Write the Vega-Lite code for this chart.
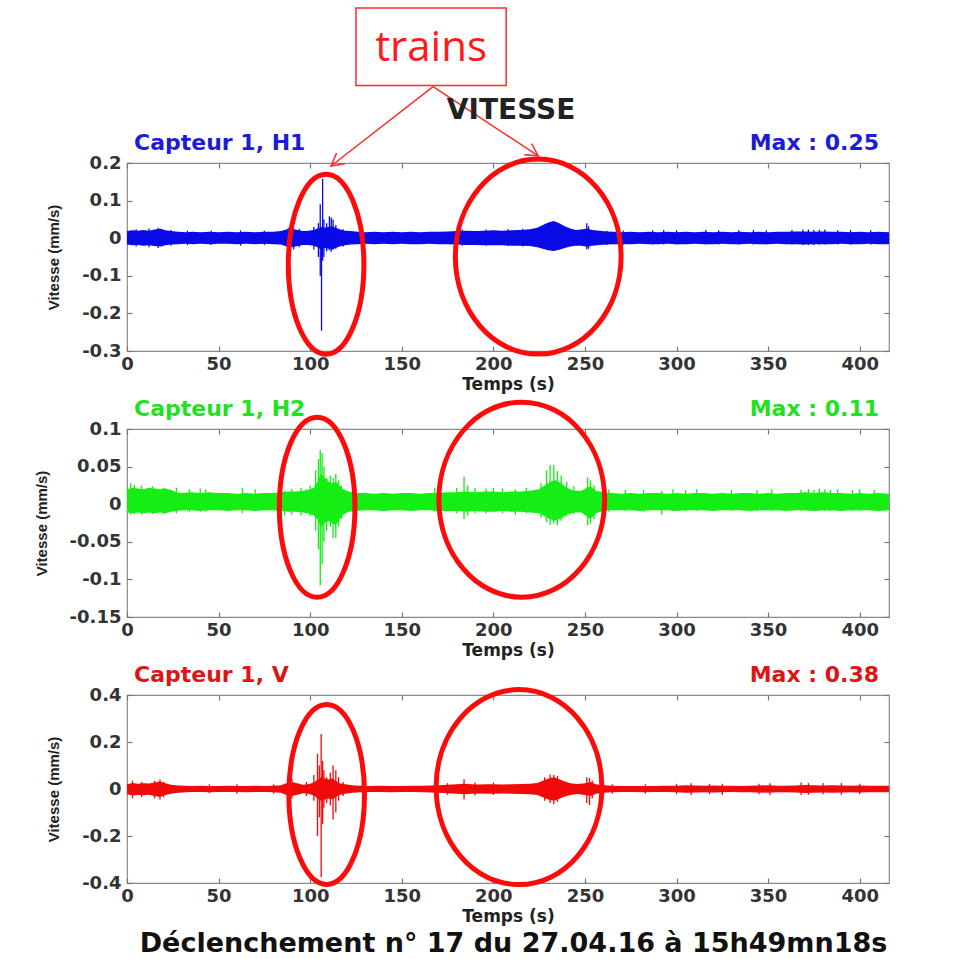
{
  "$schema": "https://vega.github.io/schema/vega-lite/v6.json",
  "autosize": {"type": "pad"},
  "padding": {"left": 33, "top": 6, "right": 5, "bottom": 5},
  "background": "white",
  "bounds": "flush",
  "spacing": 78,
  "config": {
    "view": {"stroke": "#8a8a8a", "strokeWidth": 1.2},
    "axis": {
      "domain": false, "grid": false, "tickColor": "#777", "tickSize": -5, "tickWidth": 1.2,
      "labelFont": "DejaVu Sans", "labelFontSize": 18, "labelFontWeight": "bold", "labelColor": "#333",
      "labelFlush": false, "labelOverlap": false, "labelExpr": "toString(datum.value)",
      "titleFont": "DejaVu Sans", "titleFontSize": 17, "titleFontWeight": "bold", "titleColor": "#222"
    },
    "axisY": {"titleFont": "Liberation Sans", "titleFontSize": 15, "titlePadding": 20, "labelPadding": 11},
    "axisX": {"titlePadding": 3, "labelPadding": 9}
  },
  "datasets": {
    "h1band": [
      {"t":0,"hi":0.019,"lo":-0.017},{"t":3,"hi":0.021,"lo":-0.019},{"t":6,"hi":0.02,"lo":-0.018},{"t":9,"hi":0.022,"lo":-0.02},{"t":12,"hi":0.02,"lo":-0.019},{"t":15,"hi":0.023,"lo":-0.021},{"t":18,"hi":0.025,"lo":-0.022},{"t":21,"hi":0.021,"lo":-0.019},{"t":24,"hi":0.019,"lo":-0.017},{"t":28,"hi":0.017,"lo":-0.016},{"t":32,"hi":0.016,"lo":-0.015},{"t":36,"hi":0.017,"lo":-0.016},{"t":40,"hi":0.016,"lo":-0.015},{"t":45,"hi":0.017,"lo":-0.016},{"t":50,"hi":0.016,"lo":-0.015},{"t":55,"hi":0.017,"lo":-0.015},{"t":60,"hi":0.016,"lo":-0.016},{"t":65,"hi":0.017,"lo":-0.015},{"t":70,"hi":0.016,"lo":-0.016},{"t":75,"hi":0.017,"lo":-0.015},{"t":80,"hi":0.017,"lo":-0.016},{"t":84,"hi":0.019,"lo":-0.017},{"t":87,"hi":0.023,"lo":-0.022},{"t":90,"hi":0.025,"lo":-0.024},{"t":93,"hi":0.022,"lo":-0.021},{"t":96,"hi":0.019,"lo":-0.018},{"t":99,"hi":0.02,"lo":-0.018},{"t":102,"hi":0.022,"lo":-0.02},{"t":104,"hi":0.026,"lo":-0.024},{"t":106,"hi":0.03,"lo":-0.03},{"t":108,"hi":0.028,"lo":-0.026},{"t":110,"hi":0.03,"lo":-0.028},{"t":112,"hi":0.032,"lo":-0.03},{"t":114,"hi":0.028,"lo":-0.026},{"t":116,"hi":0.024,"lo":-0.022},{"t":119,"hi":0.02,"lo":-0.019},{"t":122,"hi":0.019,"lo":-0.017},{"t":126,"hi":0.017,"lo":-0.016},{"t":130,"hi":0.016,"lo":-0.015},{"t":135,"hi":0.017,"lo":-0.016},{"t":140,"hi":0.016,"lo":-0.015},{"t":145,"hi":0.017,"lo":-0.016},{"t":150,"hi":0.016,"lo":-0.015},{"t":155,"hi":0.017,"lo":-0.016},{"t":160,"hi":0.016,"lo":-0.016},{"t":165,"hi":0.017,"lo":-0.015},{"t":170,"hi":0.017,"lo":-0.016},{"t":175,"hi":0.018,"lo":-0.016},{"t":180,"hi":0.019,"lo":-0.017},{"t":185,"hi":0.02,"lo":-0.018},{"t":190,"hi":0.019,"lo":-0.018},{"t":195,"hi":0.02,"lo":-0.019},{"t":200,"hi":0.021,"lo":-0.019},{"t":205,"hi":0.02,"lo":-0.019},{"t":210,"hi":0.021,"lo":-0.02},{"t":215,"hi":0.022,"lo":-0.02},{"t":220,"hi":0.024,"lo":-0.021},{"t":224,"hi":0.028,"lo":-0.024},{"t":227,"hi":0.035,"lo":-0.028},{"t":230,"hi":0.042,"lo":-0.032},{"t":233,"hi":0.046,"lo":-0.034},{"t":236,"hi":0.04,"lo":-0.031},{"t":239,"hi":0.032,"lo":-0.026},{"t":242,"hi":0.026,"lo":-0.022},{"t":245,"hi":0.022,"lo":-0.02},{"t":248,"hi":0.023,"lo":-0.02},{"t":251,"hi":0.026,"lo":-0.023},{"t":254,"hi":0.022,"lo":-0.02},{"t":258,"hi":0.02,"lo":-0.018},{"t":262,"hi":0.018,"lo":-0.017},{"t":266,"hi":0.017,"lo":-0.016},{"t":270,"hi":0.016,"lo":-0.016},{"t":275,"hi":0.017,"lo":-0.016},{"t":280,"hi":0.016,"lo":-0.015},{"t":285,"hi":0.017,"lo":-0.016},{"t":290,"hi":0.016,"lo":-0.016},{"t":295,"hi":0.017,"lo":-0.015},{"t":300,"hi":0.016,"lo":-0.016},{"t":305,"hi":0.017,"lo":-0.016},{"t":310,"hi":0.016,"lo":-0.015},{"t":315,"hi":0.017,"lo":-0.016},{"t":320,"hi":0.016,"lo":-0.016},{"t":325,"hi":0.017,"lo":-0.015},{"t":330,"hi":0.016,"lo":-0.016},{"t":335,"hi":0.017,"lo":-0.016},{"t":340,"hi":0.016,"lo":-0.015},{"t":345,"hi":0.017,"lo":-0.016},{"t":350,"hi":0.016,"lo":-0.016},{"t":355,"hi":0.017,"lo":-0.015},{"t":360,"hi":0.017,"lo":-0.016},{"t":365,"hi":0.018,"lo":-0.016},{"t":370,"hi":0.018,"lo":-0.017},{"t":375,"hi":0.017,"lo":-0.016},{"t":380,"hi":0.018,"lo":-0.016},{"t":385,"hi":0.017,"lo":-0.016},{"t":390,"hi":0.017,"lo":-0.015},{"t":395,"hi":0.016,"lo":-0.016},{"t":400,"hi":0.017,"lo":-0.016},{"t":405,"hi":0.016,"lo":-0.015},{"t":410,"hi":0.017,"lo":-0.016},{"t":416,"hi":0.016,"lo":-0.016}
    ],
    "h1spk": [
      {"t":5,"lo":-0.022,"hi":0.024},{"t":12,"lo":-0.024,"hi":0.026},{"t":17,"lo":-0.026,"hi":0.028},{"t":19,"lo":-0.022,"hi":0.025},{"t":24,"lo":-0.02,"hi":0.022},{"t":33,"lo":-0.018,"hi":0.02},{"t":46,"lo":-0.018,"hi":0.02},{"t":62,"lo":-0.02,"hi":0.021},{"t":75,"lo":-0.018,"hi":0.02},{"t":88,"lo":-0.028,"hi":0.028},{"t":91,"lo":-0.03,"hi":0.026},{"t":94,"lo":-0.024,"hi":0.025},{"t":102,"lo":-0.03,"hi":0.03},{"t":104.5,"lo":-0.05,"hi":0.04},{"t":105.5,"lo":-0.1,"hi":0.09},{"t":106.2,"lo":-0.246,"hi":0.03},{"t":106.8,"lo":-0.06,"hi":0.158},{"t":107.5,"lo":-0.05,"hi":0.05},{"t":109,"lo":-0.035,"hi":0.04},{"t":110.5,"lo":-0.032,"hi":0.058},{"t":111.5,"lo":-0.036,"hi":0.055},{"t":112.5,"lo":-0.03,"hi":0.05},{"t":114,"lo":-0.028,"hi":0.035},{"t":118,"lo":-0.022,"hi":0.024},{"t":183,"lo":-0.02,"hi":0.024},{"t":196,"lo":-0.02,"hi":0.023},{"t":208,"lo":-0.021,"hi":0.024},{"t":216,"lo":-0.022,"hi":0.025},{"t":251,"lo":-0.03,"hi":0.04},{"t":252,"lo":-0.028,"hi":0.032},{"t":262,"lo":-0.018,"hi":0.02},{"t":271,"lo":-0.017,"hi":0.02},{"t":287,"lo":-0.017,"hi":0.021},{"t":293,"lo":-0.017,"hi":0.022},{"t":300,"lo":-0.017,"hi":0.021},{"t":316,"lo":-0.017,"hi":0.022},{"t":323,"lo":-0.017,"hi":0.021},{"t":334,"lo":-0.017,"hi":0.021},{"t":342,"lo":-0.017,"hi":0.022},{"t":349,"lo":-0.017,"hi":0.021},{"t":363,"lo":-0.017,"hi":0.022},{"t":369,"lo":-0.018,"hi":0.023},{"t":372,"lo":-0.018,"hi":0.023},{"t":375,"lo":-0.018,"hi":0.022},{"t":378,"lo":-0.017,"hi":0.022},{"t":381,"lo":-0.017,"hi":0.023},{"t":388,"lo":-0.017,"hi":0.021},{"t":395,"lo":-0.017,"hi":0.022},{"t":406,"lo":-0.017,"hi":0.021}
    ],
    "h2band": [
      {"t":0,"hi":0.02,"lo":-0.011},{"t":3,"hi":0.022,"lo":-0.012},{"t":6,"hi":0.021,"lo":-0.011},{"t":9,"hi":0.02,"lo":-0.012},{"t":12,"hi":0.022,"lo":-0.011},{"t":15,"hi":0.021,"lo":-0.012},{"t":18,"hi":0.02,"lo":-0.011},{"t":21,"hi":0.021,"lo":-0.012},{"t":24,"hi":0.019,"lo":-0.01},{"t":27,"hi":0.016,"lo":-0.009},{"t":30,"hi":0.015,"lo":-0.008},{"t":35,"hi":0.016,"lo":-0.008},{"t":40,"hi":0.015,"lo":-0.009},{"t":45,"hi":0.016,"lo":-0.008},{"t":50,"hi":0.015,"lo":-0.008},{"t":55,"hi":0.015,"lo":-0.009},{"t":60,"hi":0.014,"lo":-0.008},{"t":65,"hi":0.015,"lo":-0.008},{"t":70,"hi":0.014,"lo":-0.009},{"t":75,"hi":0.015,"lo":-0.008},{"t":80,"hi":0.015,"lo":-0.008},{"t":84,"hi":0.016,"lo":-0.009},{"t":88,"hi":0.017,"lo":-0.01},{"t":92,"hi":0.017,"lo":-0.01},{"t":96,"hi":0.018,"lo":-0.011},{"t":99,"hi":0.019,"lo":-0.012},{"t":102,"hi":0.022,"lo":-0.015},{"t":104,"hi":0.03,"lo":-0.02},{"t":106,"hi":0.04,"lo":-0.03},{"t":108,"hi":0.035,"lo":-0.025},{"t":110,"hi":0.03,"lo":-0.022},{"t":112,"hi":0.028,"lo":-0.025},{"t":114,"hi":0.03,"lo":-0.028},{"t":116,"hi":0.025,"lo":-0.02},{"t":118,"hi":0.02,"lo":-0.014},{"t":121,"hi":0.017,"lo":-0.01},{"t":125,"hi":0.015,"lo":-0.009},{"t":130,"hi":0.015,"lo":-0.008},{"t":135,"hi":0.014,"lo":-0.008},{"t":140,"hi":0.015,"lo":-0.009},{"t":145,"hi":0.014,"lo":-0.008},{"t":150,"hi":0.015,"lo":-0.008},{"t":155,"hi":0.015,"lo":-0.009},{"t":160,"hi":0.014,"lo":-0.008},{"t":165,"hi":0.015,"lo":-0.008},{"t":170,"hi":0.015,"lo":-0.009},{"t":175,"hi":0.016,"lo":-0.009},{"t":180,"hi":0.016,"lo":-0.009},{"t":185,"hi":0.017,"lo":-0.01},{"t":190,"hi":0.016,"lo":-0.009},{"t":195,"hi":0.017,"lo":-0.01},{"t":200,"hi":0.017,"lo":-0.01},{"t":205,"hi":0.016,"lo":-0.009},{"t":210,"hi":0.017,"lo":-0.01},{"t":215,"hi":0.017,"lo":-0.01},{"t":220,"hi":0.018,"lo":-0.011},{"t":225,"hi":0.02,"lo":-0.012},{"t":228,"hi":0.025,"lo":-0.016},{"t":231,"hi":0.03,"lo":-0.02},{"t":234,"hi":0.032,"lo":-0.022},{"t":237,"hi":0.028,"lo":-0.019},{"t":240,"hi":0.022,"lo":-0.014},{"t":244,"hi":0.018,"lo":-0.011},{"t":248,"hi":0.018,"lo":-0.011},{"t":251,"hi":0.022,"lo":-0.016},{"t":253,"hi":0.024,"lo":-0.02},{"t":256,"hi":0.018,"lo":-0.012},{"t":260,"hi":0.016,"lo":-0.009},{"t":265,"hi":0.015,"lo":-0.008},{"t":270,"hi":0.014,"lo":-0.008},{"t":275,"hi":0.015,"lo":-0.008},{"t":280,"hi":0.014,"lo":-0.009},{"t":285,"hi":0.015,"lo":-0.008},{"t":290,"hi":0.015,"lo":-0.008},{"t":295,"hi":0.014,"lo":-0.008},{"t":300,"hi":0.015,"lo":-0.009},{"t":305,"hi":0.014,"lo":-0.008},{"t":310,"hi":0.015,"lo":-0.008},{"t":315,"hi":0.015,"lo":-0.008},{"t":320,"hi":0.014,"lo":-0.009},{"t":325,"hi":0.015,"lo":-0.008},{"t":330,"hi":0.014,"lo":-0.008},{"t":335,"hi":0.015,"lo":-0.008},{"t":340,"hi":0.015,"lo":-0.009},{"t":345,"hi":0.014,"lo":-0.008},{"t":350,"hi":0.015,"lo":-0.008},{"t":355,"hi":0.014,"lo":-0.008},{"t":360,"hi":0.015,"lo":-0.009},{"t":365,"hi":0.015,"lo":-0.008},{"t":370,"hi":0.016,"lo":-0.008},{"t":375,"hi":0.015,"lo":-0.009},{"t":380,"hi":0.016,"lo":-0.008},{"t":385,"hi":0.015,"lo":-0.008},{"t":390,"hi":0.015,"lo":-0.009},{"t":395,"hi":0.014,"lo":-0.008},{"t":400,"hi":0.015,"lo":-0.008},{"t":405,"hi":0.014,"lo":-0.008},{"t":410,"hi":0.015,"lo":-0.009},{"t":416,"hi":0.014,"lo":-0.008}
    ],
    "h2spk": [
      {"t":2,"lo":-0.014,"hi":0.028},{"t":4,"lo":-0.013,"hi":0.026},{"t":8,"lo":-0.014,"hi":0.025},{"t":14,"lo":-0.013,"hi":0.024},{"t":20,"lo":-0.013,"hi":0.022},{"t":27,"lo":-0.012,"hi":0.022},{"t":34,"lo":-0.01,"hi":0.02},{"t":40,"lo":-0.01,"hi":0.021},{"t":43,"lo":-0.01,"hi":0.02},{"t":63,"lo":-0.012,"hi":0.022},{"t":70,"lo":-0.009,"hi":0.02},{"t":86,"lo":-0.015,"hi":0.018},{"t":90,"lo":-0.014,"hi":0.02},{"t":95,"lo":-0.015,"hi":0.022},{"t":98,"lo":-0.012,"hi":0.02},{"t":100,"lo":-0.016,"hi":0.025},{"t":103,"lo":-0.035,"hi":0.045},{"t":104.5,"lo":-0.06,"hi":0.06},{"t":105.5,"lo":-0.108,"hi":0.072},{"t":106.5,"lo":-0.08,"hi":0.068},{"t":107.5,"lo":-0.05,"hi":0.05},{"t":109,"lo":-0.035,"hi":0.035},{"t":111,"lo":-0.03,"hi":0.038},{"t":112.5,"lo":-0.045,"hi":0.035},{"t":114,"lo":-0.045,"hi":0.04},{"t":115.5,"lo":-0.03,"hi":0.032},{"t":117,"lo":-0.02,"hi":0.025},{"t":168,"lo":-0.01,"hi":0.022},{"t":180,"lo":-0.012,"hi":0.022},{"t":184,"lo":-0.02,"hi":0.037},{"t":186,"lo":-0.015,"hi":0.025},{"t":190,"lo":-0.012,"hi":0.022},{"t":196,"lo":-0.012,"hi":0.021},{"t":200,"lo":-0.011,"hi":0.022},{"t":205,"lo":-0.012,"hi":0.021},{"t":212,"lo":-0.014,"hi":0.02},{"t":218,"lo":-0.012,"hi":0.022},{"t":226,"lo":-0.018,"hi":0.028},{"t":229,"lo":-0.024,"hi":0.045},{"t":231,"lo":-0.028,"hi":0.052},{"t":233,"lo":-0.026,"hi":0.052},{"t":235,"lo":-0.028,"hi":0.044},{"t":237,"lo":-0.022,"hi":0.038},{"t":240,"lo":-0.016,"hi":0.03},{"t":244,"lo":-0.013,"hi":0.024},{"t":251.5,"lo":-0.028,"hi":0.036},{"t":253,"lo":-0.026,"hi":0.032},{"t":255,"lo":-0.02,"hi":0.025},{"t":263,"lo":-0.01,"hi":0.02},{"t":272,"lo":-0.009,"hi":0.019},{"t":282,"lo":-0.01,"hi":0.019},{"t":292,"lo":-0.014,"hi":0.018},{"t":298,"lo":-0.009,"hi":0.02},{"t":305,"lo":-0.009,"hi":0.019},{"t":311,"lo":-0.009,"hi":0.02},{"t":330,"lo":-0.009,"hi":0.019},{"t":344,"lo":-0.009,"hi":0.019},{"t":352,"lo":-0.009,"hi":0.02},{"t":368,"lo":-0.009,"hi":0.019},{"t":372,"lo":-0.009,"hi":0.02},{"t":375,"lo":-0.009,"hi":0.019},{"t":378,"lo":-0.009,"hi":0.021},{"t":381,"lo":-0.009,"hi":0.02},{"t":384,"lo":-0.009,"hi":0.019},{"t":388,"lo":-0.009,"hi":0.02},{"t":396,"lo":-0.009,"hi":0.019},{"t":400,"lo":-0.009,"hi":0.02},{"t":408,"lo":-0.009,"hi":0.019}
    ],
    "vband": [
      {"t":0,"hi":0.02,"lo":-0.022},{"t":3,"hi":0.026,"lo":-0.028},{"t":6,"hi":0.022,"lo":-0.025},{"t":9,"hi":0.025,"lo":-0.027},{"t":12,"hi":0.023,"lo":-0.024},{"t":15,"hi":0.028,"lo":-0.03},{"t":18,"hi":0.032,"lo":-0.034},{"t":21,"hi":0.024,"lo":-0.026},{"t":24,"hi":0.018,"lo":-0.02},{"t":28,"hi":0.015,"lo":-0.016},{"t":32,"hi":0.014,"lo":-0.014},{"t":36,"hi":0.013,"lo":-0.013},{"t":40,"hi":0.014,"lo":-0.013},{"t":45,"hi":0.013,"lo":-0.014},{"t":50,"hi":0.013,"lo":-0.013},{"t":55,"hi":0.014,"lo":-0.013},{"t":60,"hi":0.013,"lo":-0.013},{"t":65,"hi":0.013,"lo":-0.014},{"t":70,"hi":0.014,"lo":-0.013},{"t":75,"hi":0.013,"lo":-0.013},{"t":80,"hi":0.014,"lo":-0.014},{"t":84,"hi":0.016,"lo":-0.016},{"t":87,"hi":0.025,"lo":-0.025},{"t":90,"hi":0.03,"lo":-0.03},{"t":93,"hi":0.024,"lo":-0.024},{"t":96,"hi":0.018,"lo":-0.018},{"t":99,"hi":0.02,"lo":-0.02},{"t":102,"hi":0.028,"lo":-0.028},{"t":104,"hi":0.04,"lo":-0.04},{"t":106,"hi":0.05,"lo":-0.05},{"t":108,"hi":0.045,"lo":-0.045},{"t":110,"hi":0.04,"lo":-0.04},{"t":112,"hi":0.045,"lo":-0.045},{"t":114,"hi":0.035,"lo":-0.035},{"t":116,"hi":0.025,"lo":-0.025},{"t":119,"hi":0.02,"lo":-0.02},{"t":123,"hi":0.016,"lo":-0.016},{"t":127,"hi":0.014,"lo":-0.014},{"t":132,"hi":0.013,"lo":-0.013},{"t":138,"hi":0.014,"lo":-0.013},{"t":144,"hi":0.013,"lo":-0.014},{"t":150,"hi":0.013,"lo":-0.013},{"t":156,"hi":0.014,"lo":-0.013},{"t":162,"hi":0.014,"lo":-0.014},{"t":166,"hi":0.015,"lo":-0.015},{"t":170,"hi":0.016,"lo":-0.016},{"t":175,"hi":0.018,"lo":-0.018},{"t":180,"hi":0.02,"lo":-0.02},{"t":184,"hi":0.022,"lo":-0.022},{"t":188,"hi":0.02,"lo":-0.02},{"t":192,"hi":0.019,"lo":-0.019},{"t":196,"hi":0.02,"lo":-0.02},{"t":200,"hi":0.02,"lo":-0.02},{"t":205,"hi":0.019,"lo":-0.019},{"t":210,"hi":0.02,"lo":-0.02},{"t":215,"hi":0.021,"lo":-0.021},{"t":220,"hi":0.022,"lo":-0.022},{"t":224,"hi":0.026,"lo":-0.026},{"t":227,"hi":0.035,"lo":-0.035},{"t":230,"hi":0.045,"lo":-0.045},{"t":233,"hi":0.05,"lo":-0.05},{"t":236,"hi":0.042,"lo":-0.042},{"t":239,"hi":0.032,"lo":-0.032},{"t":242,"hi":0.025,"lo":-0.025},{"t":246,"hi":0.021,"lo":-0.021},{"t":250,"hi":0.025,"lo":-0.025},{"t":253,"hi":0.03,"lo":-0.03},{"t":256,"hi":0.02,"lo":-0.02},{"t":260,"hi":0.016,"lo":-0.016},{"t":265,"hi":0.014,"lo":-0.014},{"t":270,"hi":0.013,"lo":-0.013},{"t":276,"hi":0.013,"lo":-0.013},{"t":282,"hi":0.013,"lo":-0.014},{"t":288,"hi":0.013,"lo":-0.013},{"t":294,"hi":0.014,"lo":-0.013},{"t":300,"hi":0.014,"lo":-0.014},{"t":305,"hi":0.016,"lo":-0.016},{"t":310,"hi":0.015,"lo":-0.015},{"t":315,"hi":0.014,"lo":-0.014},{"t":320,"hi":0.015,"lo":-0.015},{"t":325,"hi":0.014,"lo":-0.014},{"t":330,"hi":0.014,"lo":-0.013},{"t":335,"hi":0.013,"lo":-0.014},{"t":340,"hi":0.014,"lo":-0.014},{"t":345,"hi":0.015,"lo":-0.015},{"t":350,"hi":0.016,"lo":-0.016},{"t":355,"hi":0.014,"lo":-0.014},{"t":360,"hi":0.014,"lo":-0.014},{"t":365,"hi":0.015,"lo":-0.015},{"t":370,"hi":0.017,"lo":-0.017},{"t":375,"hi":0.016,"lo":-0.016},{"t":380,"hi":0.015,"lo":-0.015},{"t":385,"hi":0.016,"lo":-0.016},{"t":390,"hi":0.015,"lo":-0.015},{"t":395,"hi":0.014,"lo":-0.014},{"t":400,"hi":0.015,"lo":-0.015},{"t":405,"hi":0.014,"lo":-0.014},{"t":410,"hi":0.014,"lo":-0.014},{"t":416,"hi":0.014,"lo":-0.014}
    ],
    "vspk": [
      {"t":3,"lo":-0.04,"hi":0.035},{"t":8,"lo":-0.035,"hi":0.03},{"t":15,"lo":-0.04,"hi":0.035},{"t":18,"lo":-0.045,"hi":0.04},{"t":20,"lo":-0.035,"hi":0.03},{"t":45,"lo":-0.018,"hi":0.02},{"t":60,"lo":-0.02,"hi":0.02},{"t":80,"lo":-0.02,"hi":0.02},{"t":88,"lo":-0.045,"hi":0.04},{"t":90,"lo":-0.04,"hi":0.045},{"t":98,"lo":-0.03,"hi":0.03},{"t":102,"lo":-0.05,"hi":0.06},{"t":104,"lo":-0.2,"hi":0.15},{"t":105,"lo":-0.12,"hi":0.1},{"t":106,"lo":-0.375,"hi":0.234},{"t":106.8,"lo":-0.15,"hi":0.12},{"t":107.5,"lo":-0.08,"hi":0.08},{"t":109,"lo":-0.06,"hi":0.05},{"t":111,"lo":-0.07,"hi":0.07},{"t":112.5,"lo":-0.13,"hi":0.1},{"t":114,"lo":-0.1,"hi":0.08},{"t":115.5,"lo":-0.05,"hi":0.05},{"t":118,"lo":-0.03,"hi":0.03},{"t":175,"lo":-0.025,"hi":0.025},{"t":184,"lo":-0.045,"hi":0.042},{"t":190,"lo":-0.028,"hi":0.028},{"t":200,"lo":-0.025,"hi":0.028},{"t":228,"lo":-0.05,"hi":0.05},{"t":231,"lo":-0.06,"hi":0.062},{"t":233,"lo":-0.065,"hi":0.06},{"t":235,"lo":-0.055,"hi":0.055},{"t":251,"lo":-0.06,"hi":0.05},{"t":252.5,"lo":-0.068,"hi":0.047},{"t":254,"lo":-0.04,"hi":0.035},{"t":265,"lo":-0.02,"hi":0.02},{"t":283,"lo":-0.02,"hi":0.02},{"t":300,"lo":-0.022,"hi":0.022},{"t":308,"lo":-0.025,"hi":0.025},{"t":318,"lo":-0.022,"hi":0.022},{"t":325,"lo":-0.025,"hi":0.022},{"t":345,"lo":-0.022,"hi":0.022},{"t":351,"lo":-0.025,"hi":0.025},{"t":368,"lo":-0.025,"hi":0.028},{"t":372,"lo":-0.025,"hi":0.025},{"t":380,"lo":-0.022,"hi":0.025},{"t":390,"lo":-0.025,"hi":0.025},{"t":400,"lo":-0.022,"hi":0.022}
    ],
    "zones": [
      {"ch":"H1","train":1,"t":108.7,"v":-0.069},{"ch":"H1","train":2,"t":224.5,"v":-0.049},
      {"ch":"H2","train":1,"t":103.8,"v":-0.004},{"ch":"H2","train":2,"t":215.5,"v":0.006},
      {"ch":"V","train":1,"t":109,"v":-0.023},{"ch":"V","train":2,"t":214,"v":0.008}
    ],
    "notes": [
      {"ch":"H1","side":"max","t":416,"v":0.2,"label":"Max : 0.25"},
      {"ch":"H2","side":"max","t":416,"v":0.1,"label":"Max : 0.11"},
      {"ch":"V","side":"max","t":416,"v":0.4,"label":"Max : 0.38"},
      {"ch":"H1","side":"name","t":0,"v":0.2,"label":"Capteur 1, H1"},
      {"ch":"H2","side":"name","t":0,"v":0.1,"label":"Capteur 1, H2"},
      {"ch":"V","side":"name","t":0,"v":0.4,"label":"Capteur 1, V"}
    ],
    "annot": [
      {"id":"box","t":125,"t2":207,"v":0.406,"v2":0.612},
      {"id":"trains","t":166,"v":0.505,"label":"trains"},
      {"id":"arrow","t":167.1,"v":0.403,"t2":111.4,"v2":0.192},
      {"id":"arrow","t":167.1,"v":0.403,"t2":224.5,"v2":0.219},
      {"id":"head1","t":111.4,"v":0.192},
      {"id":"head2","t":224.5,"v":0.219},
      {"id":"title","t":209.7,"v":0.339,"label":"VITESSE"},
      {"id":"footer","t":211,"v":-0.66,"label":"Déclenchement n° 17 du 27.04.16  à 15h49mn18s"}
    ]
  },
  "vconcat": [
    {
      "width": 762, "height": 188,
      "layer": [
        {"data": {"name": "h1band"}, "mark": {"type": "area", "color": "#0a0ae8"},
         "encoding": {
           "x": {"field": "t", "type": "quantitative", "scale": {"domain": [0, 416], "nice": false, "zero": false}, "axis": {"orient": "bottom", "values": [0,50,100,150,200,250,300,350,400], "title": "Temps (s)"}},
           "y": {"field": "hi", "type": "quantitative", "scale": {"domain": [-0.3, 0.2], "nice": false, "zero": false}, "axis": {"orient": "left", "values": [-0.3,-0.2,-0.1,0,0.1,0.2], "title": "Vitesse (mm/s)"}},
           "y2": {"field": "lo"}}},
        {"data": {"name": "h1spk"}, "mark": {"type": "rule", "color": "#0a0ae8", "strokeWidth": 1.3},
         "encoding": {
           "x": {"field": "t", "type": "quantitative", "axis": {"orient": "top", "labels": false, "title": null, "values": [0,50,100,150,200,250,300,350,400]}},
           "y": {"field": "lo", "type": "quantitative", "axis": {"orient": "right", "labels": false, "title": null, "values": [-0.3,-0.2,-0.1,0,0.1,0.2]}},
           "y2": {"field": "hi"}}},
        {"data": {"name": "zones"}, "transform": [{"filter": "datum.ch === 'H1' && datum.train === 1"}],
         "mark": {"type": "point", "shape": "M0,-1A0.42,1,0,1,1,0,1A0.42,1,0,1,1,0,-1Z", "size": 32400, "filled": false, "stroke": "#ff0a0a", "strokeWidth": 5, "opacity": 1},
         "encoding": {"x": {"field": "t", "type": "quantitative", "axis": null}, "y": {"field": "v", "type": "quantitative", "axis": null}}},
        {"data": {"name": "zones"}, "transform": [{"filter": "datum.ch === 'H1' && datum.train === 2"}],
         "mark": {"type": "point", "shape": "M0,-1A0.85,1,0,1,1,0,1A0.85,1,0,1,1,0,-1Z", "size": 38025, "filled": false, "stroke": "#ff0a0a", "strokeWidth": 5, "opacity": 1},
         "encoding": {"x": {"field": "t", "type": "quantitative", "axis": null}, "y": {"field": "v", "type": "quantitative", "axis": null}}},
        {"data": {"name": "notes"}, "transform": [{"filter": "datum.ch === 'H1' && datum.side === 'max'"}],
         "mark": {"type": "text", "align": "right", "baseline": "alphabetic", "dx": -10, "dy": -13, "font": "DejaVu Sans", "fontSize": 22, "fontWeight": "bold", "color": "#1c1cd4"},
         "encoding": {"x": {"field": "t", "type": "quantitative", "axis": null}, "y": {"field": "v", "type": "quantitative", "axis": null}, "text": {"field": "label"}}},
        {"data": {"name": "notes"}, "transform": [{"filter": "datum.ch === 'H1' && datum.side === 'name'"}],
         "mark": {"type": "text", "align": "left", "baseline": "alphabetic", "dx": 7, "dy": -13, "font": "DejaVu Sans", "fontSize": 22, "fontWeight": "bold", "color": "#1c1cd4"},
         "encoding": {"x": {"field": "t", "type": "quantitative", "axis": null}, "y": {"field": "v", "type": "quantitative", "axis": null}, "text": {"field": "label"}}},
        {"data": {"name": "annot"}, "transform": [{"filter": "datum.id === 'box'"}],
         "mark": {"type": "rect", "fill": "white", "stroke": "#ff2a2a", "strokeWidth": 1.5},
         "encoding": {"x": {"field": "t", "type": "quantitative", "axis": null}, "x2": {"field": "t2"}, "y": {"field": "v", "type": "quantitative", "axis": null}, "y2": {"field": "v2"}}},
        {"data": {"name": "annot"}, "transform": [{"filter": "datum.id === 'trains'"}],
         "mark": {"type": "text", "font": "Open Sans", "fontSize": 42, "color": "#ff1a1a", "baseline": "middle"},
         "encoding": {"x": {"field": "t", "type": "quantitative", "axis": null}, "y": {"field": "v", "type": "quantitative", "axis": null}, "text": {"field": "label"}}},
        {"data": {"name": "annot"}, "transform": [{"filter": "datum.id === 'arrow'"}],
         "mark": {"type": "rule", "color": "#ff2a2a", "strokeWidth": 1.5},
         "encoding": {"x": {"field": "t", "type": "quantitative", "axis": null}, "x2": {"field": "t2"}, "y": {"field": "v", "type": "quantitative", "axis": null}, "y2": {"field": "v2"}}},
        {"data": {"name": "annot"}, "transform": [{"filter": "datum.id === 'head1'"}],
         "mark": {"type": "point", "shape": "M-0.55,1L0,0L0.55,1", "size": 600, "angle": 232, "filled": false, "stroke": "#ff2a2a", "strokeWidth": 1.5, "opacity": 1},
         "encoding": {"x": {"field": "t", "type": "quantitative", "axis": null}, "y": {"field": "v", "type": "quantitative", "axis": null}}},
        {"data": {"name": "annot"}, "transform": [{"filter": "datum.id === 'head2'"}],
         "mark": {"type": "point", "shape": "M-0.55,1L0,0L0.55,1", "size": 600, "angle": 123, "filled": false, "stroke": "#ff2a2a", "strokeWidth": 1.5, "opacity": 1},
         "encoding": {"x": {"field": "t", "type": "quantitative", "axis": null}, "y": {"field": "v", "type": "quantitative", "axis": null}}},
        {"data": {"name": "annot"}, "transform": [{"filter": "datum.id === 'title'"}],
         "mark": {"type": "text", "font": "DejaVu Sans", "fontSize": 28, "fontWeight": "bold", "color": "#222", "baseline": "middle"},
         "encoding": {"x": {"field": "t", "type": "quantitative", "axis": null}, "y": {"field": "v", "type": "quantitative", "axis": null}, "text": {"field": "label"}}}
      ]
    },
    {
      "width": 762, "height": 188,
      "layer": [
        {"data": {"name": "h2band"}, "mark": {"type": "area", "color": "#14ee14"},
         "encoding": {
           "x": {"field": "t", "type": "quantitative", "scale": {"domain": [0, 416], "nice": false, "zero": false}, "axis": {"orient": "bottom", "values": [0,50,100,150,200,250,300,350,400], "title": "Temps (s)"}},
           "y": {"field": "hi", "type": "quantitative", "scale": {"domain": [-0.15, 0.1], "nice": false, "zero": false}, "axis": {"orient": "left", "values": [-0.15,-0.1,-0.05,0,0.05,0.1], "title": "Vitesse (mm/s)"}},
           "y2": {"field": "lo"}}},
        {"data": {"name": "h2spk"}, "mark": {"type": "rule", "color": "#14ee14", "strokeWidth": 1.3},
         "encoding": {
           "x": {"field": "t", "type": "quantitative", "axis": {"orient": "top", "labels": false, "title": null, "values": [0,50,100,150,200,250,300,350,400]}},
           "y": {"field": "lo", "type": "quantitative", "axis": {"orient": "right", "labels": false, "title": null, "values": [-0.15,-0.1,-0.05,0,0.05,0.1]}},
           "y2": {"field": "hi"}}},
        {"data": {"name": "zones"}, "transform": [{"filter": "datum.ch === 'H2' && datum.train === 1"}],
         "mark": {"type": "point", "shape": "M0,-1A0.42,1,0,1,1,0,1A0.42,1,0,1,1,0,-1Z", "size": 32400, "filled": false, "stroke": "#ff0a0a", "strokeWidth": 5, "opacity": 1},
         "encoding": {"x": {"field": "t", "type": "quantitative", "axis": null}, "y": {"field": "v", "type": "quantitative", "axis": null}}},
        {"data": {"name": "zones"}, "transform": [{"filter": "datum.ch === 'H2' && datum.train === 2"}],
         "mark": {"type": "point", "shape": "M0,-1A0.85,1,0,1,1,0,1A0.85,1,0,1,1,0,-1Z", "size": 38025, "filled": false, "stroke": "#ff0a0a", "strokeWidth": 5, "opacity": 1},
         "encoding": {"x": {"field": "t", "type": "quantitative", "axis": null}, "y": {"field": "v", "type": "quantitative", "axis": null}}},
        {"data": {"name": "notes"}, "transform": [{"filter": "datum.ch === 'H2' && datum.side === 'max'"}],
         "mark": {"type": "text", "align": "right", "baseline": "alphabetic", "dx": -10, "dy": -13, "font": "DejaVu Sans", "fontSize": 22, "fontWeight": "bold", "color": "#22e022"},
         "encoding": {"x": {"field": "t", "type": "quantitative", "axis": null}, "y": {"field": "v", "type": "quantitative", "axis": null}, "text": {"field": "label"}}},
        {"data": {"name": "notes"}, "transform": [{"filter": "datum.ch === 'H2' && datum.side === 'name'"}],
         "mark": {"type": "text", "align": "left", "baseline": "alphabetic", "dx": 7, "dy": -13, "font": "DejaVu Sans", "fontSize": 22, "fontWeight": "bold", "color": "#22e022"},
         "encoding": {"x": {"field": "t", "type": "quantitative", "axis": null}, "y": {"field": "v", "type": "quantitative", "axis": null}, "text": {"field": "label"}}}
      ]
    },
    {
      "width": 762, "height": 188,
      "layer": [
        {"data": {"name": "vband"}, "mark": {"type": "area", "color": "#f00a0a"},
         "encoding": {
           "x": {"field": "t", "type": "quantitative", "scale": {"domain": [0, 416], "nice": false, "zero": false}, "axis": {"orient": "bottom", "values": [0,50,100,150,200,250,300,350,400], "title": "Temps (s)"}},
           "y": {"field": "hi", "type": "quantitative", "scale": {"domain": [-0.4, 0.4], "nice": false, "zero": false}, "axis": {"orient": "left", "values": [-0.4,-0.2,0,0.2,0.4], "title": "Vitesse (mm/s)"}},
           "y2": {"field": "lo"}}},
        {"data": {"name": "vspk"}, "mark": {"type": "rule", "color": "#f00a0a", "strokeWidth": 1.3},
         "encoding": {
           "x": {"field": "t", "type": "quantitative", "axis": {"orient": "top", "labels": false, "title": null, "values": [0,50,100,150,200,250,300,350,400]}},
           "y": {"field": "lo", "type": "quantitative", "axis": {"orient": "right", "labels": false, "title": null, "values": [-0.4,-0.2,0,0.2,0.4]}},
           "y2": {"field": "hi"}}},
        {"data": {"name": "zones"}, "transform": [{"filter": "datum.ch === 'V' && datum.train === 1"}],
         "mark": {"type": "point", "shape": "M0,-1A0.42,1,0,1,1,0,1A0.42,1,0,1,1,0,-1Z", "size": 32400, "filled": false, "stroke": "#ff0a0a", "strokeWidth": 5, "opacity": 1},
         "encoding": {"x": {"field": "t", "type": "quantitative", "axis": null}, "y": {"field": "v", "type": "quantitative", "axis": null}}},
        {"data": {"name": "zones"}, "transform": [{"filter": "datum.ch === 'V' && datum.train === 2"}],
         "mark": {"type": "point", "shape": "M0,-1A0.85,1,0,1,1,0,1A0.85,1,0,1,1,0,-1Z", "size": 38025, "filled": false, "stroke": "#ff0a0a", "strokeWidth": 5, "opacity": 1},
         "encoding": {"x": {"field": "t", "type": "quantitative", "axis": null}, "y": {"field": "v", "type": "quantitative", "axis": null}}},
        {"data": {"name": "notes"}, "transform": [{"filter": "datum.ch === 'V' && datum.side === 'max'"}],
         "mark": {"type": "text", "align": "right", "baseline": "alphabetic", "dx": -10, "dy": -13, "font": "DejaVu Sans", "fontSize": 22, "fontWeight": "bold", "color": "#dd1515"},
         "encoding": {"x": {"field": "t", "type": "quantitative", "axis": null}, "y": {"field": "v", "type": "quantitative", "axis": null}, "text": {"field": "label"}}},
        {"data": {"name": "notes"}, "transform": [{"filter": "datum.ch === 'V' && datum.side === 'name'"}],
         "mark": {"type": "text", "align": "left", "baseline": "alphabetic", "dx": 7, "dy": -13, "font": "DejaVu Sans", "fontSize": 22, "fontWeight": "bold", "color": "#dd1515"},
         "encoding": {"x": {"field": "t", "type": "quantitative", "axis": null}, "y": {"field": "v", "type": "quantitative", "axis": null}, "text": {"field": "label"}}},
        {"data": {"name": "annot"}, "transform": [{"filter": "datum.id === 'footer'"}],
         "mark": {"type": "text", "font": "DejaVu Sans", "fontSize": 27, "fontWeight": "bold", "color": "#111", "baseline": "middle"},
         "encoding": {"x": {"field": "t", "type": "quantitative", "axis": null}, "y": {"field": "v", "type": "quantitative", "axis": null}, "text": {"field": "label"}}}
      ]
    }
  ]
}
